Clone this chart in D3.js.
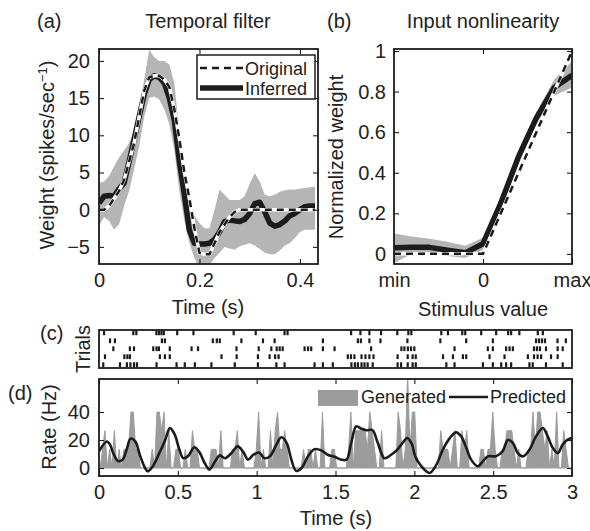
<!DOCTYPE html>
<html>
<head>
<meta charset="utf-8">
<script src="https://cdn.jsdelivr.net/npm/d3@7"></script>
<style>
body { margin: 0; background: #fff; }
svg text { font-family: "Liberation Sans", Arial, Helvetica, sans-serif; fill: #222; }
</style>
</head>
<body>
<svg id="fig" width="590" height="531"></svg>
<script>
// ---- (a) temporal filter ----
const filterTime = [0, 0.01, 0.02, 0.03, 0.04, 0.05, 0.06, 0.07, 0.08, 0.09,
    0.10, 0.11, 0.12, 0.13, 0.14, 0.15, 0.16, 0.17, 0.18, 0.19,
    0.20, 0.21, 0.22, 0.23, 0.24, 0.25, 0.26, 0.27, 0.28, 0.29,
    0.30, 0.31, 0.32, 0.33, 0.34, 0.35, 0.36, 0.37, 0.38, 0.39,
    0.40, 0.41, 0.42, 0.43];
const filterOriginal = [0, 0, 0.5, 1.5, 2.5, 4, 6.5, 9, 12.5, 16,
    17.8, 18, 18, 17.5, 16.5, 13.5, 9.5, 5, 1.5, -2.5,
    -5.8, -6, -6, -4.5, -3, -2, -1, -0.3, 0, 0,
    0, 0, 0, 0, 0, 0, 0, 0, 0, 0,
    0, 0, 0, 0];
const filterInferred = [0.9, 1.8, 1.9, 1.8, 2.8, 3.6, 6.5, 9.5, 12.5, 15.5,
    17.5, 18, 17.8, 17, 15, 12, 6.5, 2, -2.8, -4.5,
    -4.6, -4.6, -4.5, -4, -3, -1.6, -1.4, -1.5, -1.6, -1.3,
    -0.5, 0.8, 1, -0.3, -1.8, -2.2, -2, -1.5, -0.8, -0.5,
    0, 0.4, 0.5, 0.5];
const filterUpper = [3.6, 3.8, 4.5, 5.8, 7, 8, 9, 10.5, 13.5, 17.5,
    21.5, 20.5, 20, 20, 19.5, 17, 10.5, 6, 1, -0.8,
    -1.8, -2.5, -2.5, 0, 2.7, 2, 1.3, 1.3, 1.3, 1.8,
    3.5, 4.9, 3.8, 2, 1.8, 2, 2.4, 2.6, 2.7, 2.7,
    2.8, 2.9, 3, 3.1];
const filterLower = [-2.2, -1, -1.5, -2.7, -2, 0.5, 2.5, 5.5, 8.5, 12.5,
    15, 15.2, 14.8, 13.5, 11.5, 8, 2.5, -1.5, -4.5, -6.5,
    -8, -8, -7.5, -6.5, -5.8, -5, -5.2, -5.4, -4.9, -4.7,
    -4.5, -4.8, -5.3, -5.8, -6, -6, -5.5, -4.8, -4.5, -3.8,
    -3, -2.7, -2.7, -2.7];
const filterXTicks = [0, 0.2, 0.4];
const filterYTicks = [-5, 0, 5, 10, 15, 20];

// ---- (b) input nonlinearity ----
const nlStim = [-1, -0.8, -0.6, -0.4, -0.2, 0, 0.2, 0.4, 0.6, 0.8, 1];
const nlOriginal = [0, 0, 0, 0, 0, 0, 0.2, 0.4, 0.6, 0.8, 1];
const nlInferred = [0.03, 0.033, 0.032, 0.018, 0.005, 0.05, 0.25, 0.48, 0.67, 0.82, 0.88];
const nlUpper = [0.1, 0.085, 0.075, 0.06, 0.04, 0.08, 0.28, 0.51, 0.7, 0.86, 0.95];
const nlLower = [-0.045, 0, 0.005, -0.01, -0.02, 0.02, 0.22, 0.45, 0.64, 0.78, 0.82];
const nlXTicks = [-1, 0, 1];
const nlXLabels = ['min', '0', 'max'];
const nlYTicks = [0, 0.2, 0.4, 0.6, 0.8, 1];

// ---- (c) spike raster, spike times in s ----
const trial1 = [0.032, 0.218, 0.237, 0.364, 0.380, 0.396, 0.411, 0.496, 0.599, 0.854,
    0.994, 1.177, 1.196, 1.599, 1.658, 1.715, 1.789, 1.892, 1.962, 1.981,
    2.171, 2.213, 2.304, 2.323, 2.424, 2.519, 2.595, 2.614, 2.666, 2.783, 2.815];
const trial2 = [0.070, 0.101, 0.399, 0.418, 0.722, 0.747, 0.766, 0.903, 1.040, 1.114,
    1.420, 1.642, 1.661, 1.715, 1.785, 1.956, 2.165, 2.329, 2.498, 2.772,
    2.791, 2.810, 2.829, 2.908, 2.961];
const trial3 = [0.091, 0.196, 0.222, 0.344, 0.365, 0.380, 0.449, 0.587, 0.628, 0.872,
    1.013, 1.093, 1.127, 1.146, 1.165, 1.304, 1.326, 1.346, 1.420, 1.494,
    1.726, 1.918, 1.937, 1.959, 1.979, 2.000, 2.255, 2.466, 2.498, 2.582,
    2.604, 2.625, 2.759, 2.778, 2.797, 2.835, 2.909, 2.941];
const trial4 = [0.038, 0.161, 0.180, 0.196, 0.386, 0.418, 0.449, 0.777, 0.873, 1.008,
    1.082, 1.117, 1.139, 1.578, 1.598, 1.620, 1.665, 1.690, 1.715, 1.741,
    1.894, 1.958, 1.989, 2.009, 2.182, 2.245, 2.308, 2.329, 2.477, 2.572,
    2.720, 2.759, 2.782, 2.804, 2.867, 2.909];
const trial5 = [0.027, 0.133, 0.177, 0.199, 0.222, 0.241, 0.365, 0.492, 0.544, 0.608,
    0.713, 0.861, 1.008, 1.125, 1.177, 1.367, 1.420, 1.483, 1.601, 1.623,
    1.642, 1.665, 1.684, 1.704, 1.736, 1.894, 1.916, 1.958, 1.989, 2.009,
    2.203, 2.255, 2.435, 2.498, 2.551, 2.582, 2.614, 2.730, 2.751, 2.835, 2.941];
const trials = [trial1, trial2, trial3, trial4, trial5];
const binWidth = 0.015;

// ---- (d) predicted rate ----
const predTime = [0, 0.05, 0.07, 0.09, 0.12, 0.15, 0.175, 0.2, 0.23, 0.26,
    0.29, 0.31, 0.34, 0.38, 0.42, 0.45, 0.48, 0.51, 0.535, 0.565,
    0.605, 0.64, 0.67, 0.7, 0.735, 0.765, 0.8, 0.84, 0.88, 0.915,
    0.945, 0.98, 1.015, 1.05, 1.085, 1.125, 1.156, 1.19, 1.22, 1.25,
    1.285, 1.325, 1.367, 1.41, 1.45, 1.495, 1.535, 1.57, 1.6, 1.632,
    1.665, 1.695, 1.735, 1.768, 1.81, 1.853, 1.894, 1.926, 1.955, 1.985,
    2.005, 2.045, 2.097, 2.14, 2.18, 2.225, 2.265, 2.297, 2.33, 2.36,
    2.403, 2.435, 2.466, 2.52, 2.56, 2.593, 2.625, 2.656, 2.688, 2.73,
    2.772, 2.815, 2.846, 2.878, 2.91, 2.941, 2.973, 3.0];
const predRate = [12, 19, 16.7, 10.7, 5, 6, 13, 21, 19, 9,
    0.5, -2.4, 1, 10, 20, 28.5, 24, 13, 7, 8.5,
    14.8, 10.7, 3.6, -1, 4.5, 9, 7, 10.7, 15.5, 11.5,
    6, 9.5, 11, 7, 8.5, 16.7, 22, 18, 6, -2,
    0, 8.3, 13.5, 12.6, 9.5, 8, 6, 6, 18, 29.8,
    28, 27, 27, 18, 7, 9.5, 13.3, 18, 21.5, 17,
    8.5, 1.2, -3.5, 2.4, 13, 21.4, 25.5, 22.6, 14.3, 6,
    1.2, 4.8, 8.3, 8.5, 12, 20, 18, 10.7, 8.3, 13,
    22.6, 28.6, 22.6, 14.3, 10.7, 16.7, 20.3, 21.4];
const rateXTicks = [0, 0.5, 1, 1.5, 2, 2.5, 3];
const rateYTicks = [0, 20, 40];

const svg = d3.select('#fig');
const FS = 20;
const INK = '#1c1c1c';
const numFmt = d3.format('');

function drawFrame(x, y, opts) {
    const [x0, x1] = x.range();
    const [y0, y1] = y.range();
    const g = svg.append('g');
    if (opts.xTicks) {
        g.append('g')
            .attr('transform', `translate(0,${y0})`)
            .call(d3.axisBottom(x).tickValues(opts.xTicks).tickFormat(opts.xFmt || numFmt)
                .tickSizeInner(-5).tickSizeOuter(0).tickPadding(opts.xPad || 9));
        g.append('g')
            .attr('transform', `translate(0,${y1})`)
            .call(d3.axisTop(x).tickValues(opts.xTicks).tickFormat('')
                .tickSizeInner(-5).tickSizeOuter(0));
    }
    if (opts.yTicks) {
        g.append('g')
            .attr('transform', `translate(${x0},0)`)
            .call(d3.axisLeft(y).tickValues(opts.yTicks).tickFormat(opts.yFmt || numFmt)
                .tickSizeInner(-5).tickSizeOuter(0).tickPadding(opts.yPad || 9));
        g.append('g')
            .attr('transform', `translate(${x1},0)`)
            .call(d3.axisRight(y).tickValues(opts.yTicks).tickFormat('')
                .tickSizeInner(-5).tickSizeOuter(0));
    }
    g.selectAll('.domain').remove();
    g.selectAll('.tick line').attr('stroke', INK).attr('stroke-width', 1.1);
    g.selectAll('.tick text').attr('font-size', FS).attr('fill', '#222');
    g.append('rect')
        .attr('x', x0).attr('y', y1)
        .attr('width', x1 - x0).attr('height', y0 - y1)
        .attr('fill', 'none').attr('stroke', INK).attr('stroke-width', 1.8);
}

function clipFor(id, x, y) {
    const [x0, x1] = x.range();
    const [y0, y1] = y.range();
    svg.append('clipPath').attr('id', id)
        .append('rect').attr('x', x0).attr('y', y1).attr('width', x1 - x0).attr('height', y0 - y1);
    return svg.append('g').attr('clip-path', `url(#${id})`);
}

function label(txt, x, y, opts = {}) {
    return svg.append('text')
        .attr('x', x).attr('y', y)
        .attr('font-size', opts.size || FS)
        .attr('text-anchor', opts.anchor || 'start')
        .attr('transform', opts.rotate ? `rotate(-90,${x},${y})` : null)
        .text(txt);
}

// ================= (a) =================
const xA = d3.scaleLinear().domain([0, 0.436]).range([99, 318]);
const yA = d3.scaleLinear().domain([-7.3, 21.6]).range([264, 49]);
const gA = clipFor('clipA', xA, yA);

gA.append('path')
    .datum(filterTime)
    .attr('fill', '#b5b5b5')
    .attr('d', d3.area()
        .x(d => xA(d))
        .y0((d, i) => yA(filterLower[i]))
        .y1((d, i) => yA(filterUpper[i])));

gA.append('path')
    .datum(filterTime)
    .attr('fill', 'none').attr('stroke', INK).attr('stroke-width', 5.5)
    .attr('stroke-linejoin', 'round')
    .attr('d', d3.line().x(d => xA(d)).y((d, i) => yA(filterInferred[i])));

const lineOrigA = d3.line().x(d => xA(d)).y((d, i) => yA(filterOriginal[i]));
gA.append('path').datum(filterTime)
    .attr('fill', 'none').attr('stroke', '#fff').attr('stroke-width', 3.5)
    .attr('d', lineOrigA);
gA.append('path').datum(filterTime)
    .attr('fill', 'none').attr('stroke', INK).attr('stroke-width', 2.5)
    .attr('stroke-dasharray', '7,5')
    .attr('d', lineOrigA);

drawFrame(xA, yA, { xTicks: filterXTicks, yTicks: filterYTicks });

// legend (a)
const legA = svg.append('g');
legA.append('rect').attr('x', 197).attr('y', 55).attr('width', 118).attr('height', 44)
    .attr('fill', '#fff').attr('stroke', INK).attr('stroke-width', 1.5);
legA.append('line').attr('x1', 200).attr('x2', 244).attr('y1', 68).attr('y2', 68)
    .attr('stroke', INK).attr('stroke-width', 2.5).attr('stroke-dasharray', '7,5');
legA.append('line').attr('x1', 200).attr('x2', 243).attr('y1', 88).attr('y2', 88)
    .attr('stroke', INK).attr('stroke-width', 5.5);
label('Original', 245, 75, { size: 18 });
label('Inferred', 245, 95, { size: 18 });

label('(a)', 37, 28);
label('Temporal filter', 208, 28, { anchor: 'middle' });
label('Time (s)', 208, 314, { anchor: 'middle' });
const wLab = label('Weight (spikes/sec', 54, 155, { anchor: 'middle', rotate: true });
wLab.append('tspan').attr('font-size', 13).attr('dy', -7).text('\u22121');
wLab.append('tspan').attr('dy', 7).text(')');

// ================= (b) =================
const xB = d3.scaleLinear().domain([-1, 1]).range([394, 572]);
const yB = d3.scaleLinear().domain([-0.05, 1.01]).range([264, 49]);
const gB = clipFor('clipB', xB, yB);

gB.append('path')
    .datum(nlStim)
    .attr('fill', '#b5b5b5')
    .attr('d', d3.area()
        .x(d => xB(d))
        .y0((d, i) => yB(nlLower[i]))
        .y1((d, i) => yB(nlUpper[i])));

gB.append('path')
    .datum(nlStim)
    .attr('fill', 'none').attr('stroke', INK).attr('stroke-width', 5.5)
    .attr('stroke-linejoin', 'round')
    .attr('d', d3.line().x(d => xB(d)).y((d, i) => yB(nlInferred[i])));

const lineOrigB = d3.line().x(d => xB(d)).y((d, i) => yB(nlOriginal[i]));
gB.append('path').datum(nlStim)
    .attr('fill', 'none').attr('stroke', '#fff').attr('stroke-width', 3.5)
    .attr('d', lineOrigB);
gB.append('path').datum(nlStim)
    .attr('fill', 'none').attr('stroke', INK).attr('stroke-width', 2.5)
    .attr('stroke-dasharray', '7,5')
    .attr('d', lineOrigB);

drawFrame(xB, yB, {
    xTicks: nlXTicks, xFmt: (d, i) => nlXLabels[i],
    yTicks: nlYTicks, yPad: 8
});

label('(b)', 327, 28);
label('Input nonlinearity', 483, 28, { anchor: 'middle' });
label('Stimulus value', 483, 316, { anchor: 'middle' });
label('Normalized weight', 343, 157, { anchor: 'middle', rotate: true });

// ================= (c) =================
const xT = d3.scaleLinear().domain([0, 3]).range([99, 572]);
const yC = d3.scaleBand().domain(d3.range(trials.length)).range([329.5, 368])
    .paddingInner(0.4).paddingOuter(0.12);
const yCframe = d3.scaleLinear().range([368, 330]);

const gC = svg.append('g');
trials.forEach((spikes, i) => {
    gC.selectAll(null)
        .data(spikes)
        .join('rect')
        .attr('x', d => xT(d) - 1.1)
        .attr('y', yC(i))
        .attr('width', 2.2)
        .attr('height', yC.bandwidth())
        .attr('fill', INK);
});
drawFrame(xT, yCframe, {});

label('(c)', 40, 340);
label('Trials', 90, 349, { anchor: 'middle', rotate: true });

// ================= (d) =================
const yD = d3.scaleLinear().domain([-5.7, 63.6]).range([476, 379]);
const gD = clipFor('clipD', xT, yD);

const allSpikes = trials.flat();
const rateBins = d3.bin()
    .domain([0, 3])
    .thresholds(d3.range(0, 3, binWidth))(allSpikes)
    .map(b => ({ t: (b.x0 + b.x1) / 2, rate: b.length / (trials.length * binWidth) }));

gD.append('path')
    .datum(rateBins)
    .attr('fill', '#9c9c9c').attr('stroke', '#9c9c9c').attr('stroke-width', 1)
    .attr('d', d3.area().x(d => xT(d.t)).y0(yD(0)).y1(d => yD(d.rate)));

gD.append('path')
    .datum(predTime)
    .attr('fill', 'none').attr('stroke', INK).attr('stroke-width', 2.6)
    .attr('stroke-linejoin', 'round')
    .attr('d', d3.line().curve(d3.curveCatmullRom).x(d => xT(d)).y((d, i) => yD(predRate[i])));

drawFrame(xT, yD, { xTicks: rateXTicks, yTicks: rateYTicks, xPad: 8.5 });

// legend (d)
svg.append('rect').attr('x', 318).attr('y', 390).attr('width', 40).attr('height', 16).attr('fill', '#9c9c9c');
label('Generated', 361, 403, { size: 18 });
svg.append('line').attr('x1', 449).attr('x2', 488).attr('y1', 397).attr('y2', 397)
    .attr('stroke', INK).attr('stroke-width', 2.6);
label('Predicted', 490, 403, { size: 18 });

label('(d)', 8, 400);
label('Rate (Hz)', 56, 427, { anchor: 'middle', rotate: true });
label('Time (s)', 336, 525, { anchor: 'middle' });
</script>
</body>
</html>
